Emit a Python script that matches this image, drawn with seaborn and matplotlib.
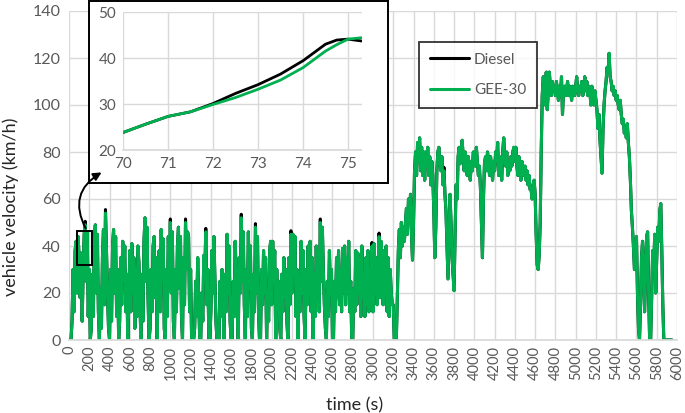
import numpy as np
import pandas as pd
import seaborn as sns
import matplotlib.pyplot as plt
from matplotlib.patches import Rectangle

# vehicle velocity (km/h) every 10 s, GEE-30 trace
speed_0000 = [0, 0, 0, 8, 30, 12, 38, 42, 20, 44, 35, 18, 37, 8, 30, 45, 49, 25, 46, 10,
              30, 0, 5, 28, 10, 42, 49, 20, 45, 12, 0, 22, 5, 35, 47, 15, 54, 38, 20, 5,
              0, 30, 8, 40, 47, 20, 44, 10, 30, 0, 8, 35, 15, 42, 25, 40, 12, 28, 0, 15,
              38, 12, 41, 20, 35, 5, 30, 10, 40, 33, 15, 0, 28, 8, 42, 52, 25, 48, 18, 0,
              5, 30, 12, 40, 44, 18, 35, 0, 28, 38, 12, 47, 30, 43, 5, 0, 30, 10, 44, 25]
speed_1000 = [50, 20, 46, 8, 0, 30, 12, 40, 48, 22, 44, 10, 0, 35, 15, 50, 30, 46, 44, 12,
              30, 0, 0, 0, 5, 25, 10, 35, 18, 0, 0, 20, 8, 36, 28, 46, 15, 30, 0, 0,
              12, 38, 20, 44, 25, 8, 0, 0, 0, 25, 10, 30, 15, 0, 28, 12, 45, 20, 40, 8,
              0, 0, 25, 10, 42, 28, 12, 0, 35, 20, 52, 25, 46, 15, 0, 30, 10, 46, 22, 40,
              5, 0, 28, 12, 48, 20, 44, 12, 0, 0, 30, 15, 38, 20, 35, 0, 20, 8, 38, 42]
speed_2000 = [15, 42, 25, 38, 0, 30, 12, 25, 5, 0, 28, 12, 35, 18, 30, 8, 0, 35, 15, 45,
              20, 45, 28, 44, 10, 30, 0, 25, 12, 42, 20, 38, 10, 0, 30, 15, 40, 20, 42, 12,
              35, 0, 28, 10, 40, 20, 38, 12, 50, 25, 48, 30, 15, 5, 0, 25, 10, 38, 20, 30,
              0, 0, 25, 12, 35, 18, 38, 15, 30, 12, 39, 20, 40, 15, 35, 20, 42, 12, 25, 0,
              0, 22, 12, 38, 15, 37, 20, 35, 10, 40, 18, 28, 10, 35, 15, 38, 12, 30, 20, 40]
speed_3000 = [12, 41, 20, 35, 15, 30, 44, 18, 42, 25, 15, 38, 20, 40, 12, 35, 10, 30, 20, 15,
              15, 0, 0, 0, 18, 38, 47, 35, 50, 40, 48, 42, 50, 56, 45, 60, 50, 62, 45, 34,
              50, 72, 80, 70, 84, 76, 86, 72, 82, 70, 80, 68, 80, 74, 82, 70, 78, 66, 76, 70,
              55, 35, 48, 72, 80, 82, 76, 72, 78, 66, 72, 62, 55, 40, 26, 45, 62, 50, 35, 28,
              21, 45, 66, 60, 78, 82, 75, 80, 85, 78, 72, 80, 76, 70, 78, 74, 68, 76, 72, 80]
speed_4000 = [78, 74, 82, 76, 70, 74, 65, 50, 35, 60, 75, 78, 72, 80, 76, 70, 78, 74, 68, 76,
              72, 80, 76, 84, 70, 78, 74, 68, 80, 86, 78, 74, 80, 70, 76, 72, 78, 74, 80, 82,
              76, 82, 74, 70, 78, 72, 68, 76, 72, 70, 74, 68, 72, 66, 70, 64, 64, 60, 66, 68,
              62, 45, 32, 30, 36, 50, 80, 104, 112, 110, 100, 114, 98, 106, 114, 108, 104, 110, 106, 108,
              104, 110, 106, 102, 108, 104, 112, 96, 106, 108, 104, 106, 110, 104, 108, 106, 102, 108, 106, 104]
speed_5000 = [108, 112, 106, 104, 108, 106, 110, 104, 108, 112, 106, 110, 104, 108, 106, 100, 108, 104, 100, 106,
              102, 98, 90, 96, 85, 78, 71, 90, 100, 106, 110, 116, 114, 122, 112, 110, 106, 108, 104, 106,
              102, 104, 100, 98, 102, 96, 92, 94, 88, 90, 86, 92, 84, 78, 68, 55, 48, 40, 30, 36,
              44, 20, 5, 0, 15, 35, 42, 30, 12, 28, 44, 46, 20, 0, 0, 18, 38, 30, 45, 20,
              35, 48, 42, 55, 58, 38, 15, 0, 0, 0, 0, 0, 0, 0, 0, 0]

# spots where the black Diesel trace peeks out just above the green one
diesel_peaks = {160: 50.5, 360: 55.5, 1000: 51.5, 1150: 51.5, 1350: 47.5, 1700: 53.5,
                1840: 49.5, 2190: 46.5, 2480: 51.5, 2990: 41.5, 3060: 45.5, 3700: 73.5}

# inset: zoom on 70-75 s
inset_time = [70, 70.5, 71, 71.5, 72, 72.5, 73, 73.5, 74, 74.5, 74.75, 75, 75.3]
inset_gee = [23.8, 25.6, 27.3, 28.3, 29.9, 31.4, 33.2, 35.2, 37.9, 41.5, 42.9, 44.1, 44.4]
inset_diesel = [23.8, 25.6, 27.3, 28.3, 30.1, 32.3, 34.2, 36.5, 39.4, 43.0, 43.9, 44.1, 43.7]

GREEN = '#00B050'
GRID = '#D9D9D9'
TICK = '#595959'

gee = speed_0000 + speed_1000 + speed_2000 + speed_3000 + speed_4000 + speed_5000
time = np.arange(len(gee)) * 10
diesel = list(gee)
for t_s, v in diesel_peaks.items():
    diesel[t_s // 10] = v

df = pd.concat([
    pd.DataFrame({'time': time, 'speed': diesel, 'fuel': 'Diesel'}),
    pd.DataFrame({'time': time, 'speed': gee, 'fuel': 'GEE-30'}),
], ignore_index=True)

df_in = pd.concat([
    pd.DataFrame({'time': inset_time, 'speed': inset_diesel, 'fuel': 'Diesel'}),
    pd.DataFrame({'time': inset_time, 'speed': inset_gee, 'fuel': 'GEE-30'}),
], ignore_index=True)

sns.set_theme(style='white')
plt.rcParams['font.family'] = ['Lato', 'DejaVu Sans']

W, H = 685, 413
fig = plt.figure(figsize=(W / 100, H / 100), dpi=100)
palette = {'Diesel': 'black', 'GEE-30': GREEN}

# main chart
ax = fig.add_axes([69 / W, 1 - 340 / H, 608 / W, 329 / H])
sns.lineplot(data=df, x='time', y='speed', hue='fuel', palette=palette,
             hue_order=['Diesel', 'GEE-30'], estimator=None, lw=2.2, ax=ax)
ax.set_xlim(0, 6000)
ax.set_ylim(0, 140)
ax.set_xticks(range(0, 6001, 200))
ax.set_yticks(range(0, 141, 20))
ax.tick_params(axis='x', labelrotation=90, labelsize=10.5, colors=TICK, length=0, pad=4)
ax.tick_params(axis='y', labelsize=11.5, colors=TICK, length=0, pad=6)
ax.grid(True, color=GRID, lw=1)
for side in ['top', 'right', 'left']:
    ax.spines[side].set_visible(False)
ax.spines['bottom'].set_color(GRID)
ax.set_xlabel('time (s)', fontsize=13, color='#262626')
ax.set_ylabel('vehicle velocity (km/h)', fontsize=13, color='#262626')
ax.xaxis.set_label_coords(0.469, -0.175)
ax.yaxis.set_label_coords(-0.082, 0.405)

handles, labels = ax.get_legend_handles_labels()
leg = ax.legend(handles, labels, loc='upper left', bbox_to_anchor=(0.5757, 0.906),
                borderaxespad=0, frameon=True, fancybox=False, fontsize=11,
                handlelength=2.6, labelspacing=1.1, borderpad=0.7, handletextpad=0.3)
leg.get_frame().set_edgecolor('black')
leg.get_frame().set_linewidth(1.3)
for txt in leg.get_texts():
    txt.set_color(TICK)

# box marking the zoomed region
ax.add_patch(Rectangle((82, 32), 148, 14.4, fill=False, ec='black', lw=1.4, zorder=5))

# frame behind the inset
frame_ax = fig.add_axes([89 / W, 1 - 183 / H, 299 / W, 182 / H])
frame_ax.set_facecolor('white')
frame_ax.set_xticks([])
frame_ax.set_yticks([])
for sp in frame_ax.spines.values():
    sp.set_visible(True)
    sp.set_color('black')
    sp.set_linewidth(1.4)

frame_ax.annotate('', xy=(104 / W, 1 - 171 / H), xycoords='figure fraction',
                  xytext=(178, 46.4), textcoords=ax.transData,
                  arrowprops=dict(arrowstyle='-|>', color='black', lw=1.4,
                                  mutation_scale=12, connectionstyle='arc3,rad=-0.5'),
                  annotation_clip=False)

# inset chart
ax_in = fig.add_axes([123 / W, 1 - 150 / H, 238.5 / W, 138 / H])
sns.lineplot(data=df_in, x='time', y='speed', hue='fuel', palette=palette,
             hue_order=['Diesel', 'GEE-30'], estimator=None, lw=2.0, ax=ax_in, legend=False)
ax_in.set_xlim(70, 75.3)
ax_in.set_ylim(20, 50)
ax_in.set_xticks(range(70, 76))
ax_in.set_yticks(range(20, 51, 10))
ax_in.tick_params(labelsize=11, colors=TICK, length=0, pad=5)
ax_in.grid(True, color=GRID, lw=1)
for side in ['top', 'right', 'left']:
    ax_in.spines[side].set_visible(False)
ax_in.spines['bottom'].set_color(GRID)
ax_in.set_xlabel('')
ax_in.set_ylabel('')

fig.savefig('out.png', dpi=100)
